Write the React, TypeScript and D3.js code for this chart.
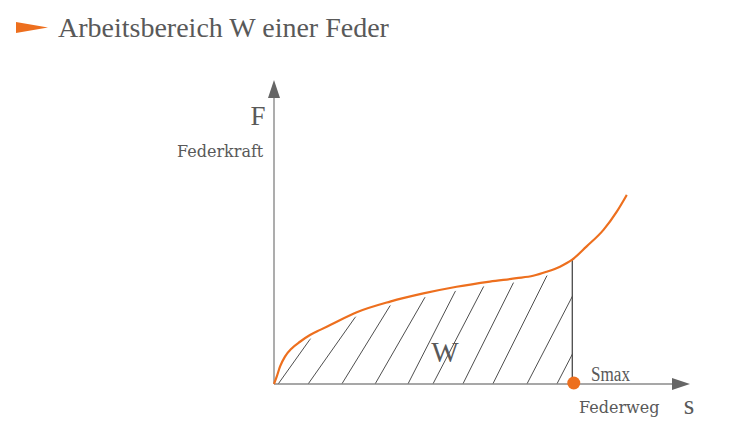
import * as d3 from 'd3'

// spring curve F(s) (axis units 0..100)
const curveS: number[] = [0, 0.65, 1.44, 2.64, 4.25, 6.25, 8.65, 11.1, 13.5, 19.9, 27.9, 35.9, 43.9, 51.9, 58.3, 62.3, 65.5, 68.75, 71.6, 75.1, 79.2, 82.4, 84.8]
const curveF: number[] = [0, 2.4, 5.7, 9.0, 11.7, 13.9, 16.1, 17.8, 19.4, 23.6, 27.1, 29.8, 32.0, 33.7, 34.8, 35.6, 36.9, 38.6, 40.8, 45.2, 50.7, 56.7, 62.2]

// hatch lines: start on the s axis and slope (dF/ds)
const hatchS: number[] = [1.0, 8.2, 16.3, 24.3, 32.2, 38.2, 45.4, 52.6, 60.8, 68.0]
const hatchSlope: number[] = [1.92, 1.94, 2.22, 2.38, 2.68, 2.63, 2.74, 2.74, 2.64, 2.64]

const sMax: number = 71.7
const fAtMax: number = 40.8

const title = 'Arbeitsbereich W einer Feder'
const orange = '#ED6F1E'
const grey = '#595959'
const font = '"Liberation Serif", serif'
const smallFont = '"DejaVu Serif", serif'

export default function App() {
  const width = 750
  const height = 429

  const x = d3.scaleLinear().domain([0, 100]).range([274, 690])
  const y = d3.scaleLinear().domain([0, 100]).range([384, 80])

  const pts: [number, number][] = curveS.map((s, i) => [s, curveF[i]])

  const line = d3.line<[number, number]>()
    .x(d => x(d[0]))
    .y(d => y(d[1]))
    .curve(d3.curveMonotoneX)

  // area below the curve, pulled down a little so hatches stop short
  const gap = 4
  const area = d3.area<[number, number]>()
    .x(d => x(d[0]))
    .y0(y(0))
    .y1(d => y(d[1]) + gap)
    .curve(d3.curveMonotoneX)

  const xMax = x(sMax)

  return (
    <svg width={width} height={height} style={{ position: 'absolute', left: 0, top: 0, background: '#fff' }}>
      <defs>
        <clipPath id="under">
          <path d={area(pts) || ''} />
        </clipPath>
        <clipPath id="left">
          <rect x={x(0)} y={0} width={xMax - x(0)} height={y(0)} />
        </clipPath>
      </defs>

      {/* title */}
      <polygon points="16,22 48,27.5 16,33" fill={orange} />
      <text x={58} y={37} fontFamily={font} fontSize={28} fill={grey}>{title}</text>

      {/* hatching */}
      <g clipPath="url(#left)">
        <g clipPath="url(#under)">
          {hatchS.map((s, i) => (
            <line key={i}
              x1={x(s)} y1={y(0)}
              x2={x(s + 40)} y2={y(hatchSlope[i] * 40)}
              stroke="#3a3a3a" strokeWidth={0.9} />
          ))}
        </g>
      </g>

      {/* s_max vertical */}
      <line x1={xMax} y1={y(0)} x2={xMax} y2={y(fAtMax) - 1} stroke="#3a3a3a" strokeWidth={1.2} />

      {/* axes */}
      <line x1={x(0)} y1={y(0)} x2={x(100) - 16} y2={y(0)} stroke="#8a8a8a" strokeWidth={1.4} />
      <polygon points={`${x(100)},${y(0)} ${x(100) - 18},${y(0) - 6} ${x(100) - 18},${y(0) + 6}`} fill="#666" />
      <line x1={x(0)} y1={y(0)} x2={x(0)} y2={y(100) + 16} stroke="#8a8a8a" strokeWidth={1.4} />
      <polygon points={`${x(0)},${y(100)} ${x(0) - 6},${y(100) + 18} ${x(0) + 6},${y(100) + 18}`} fill="#666" />

      {/* curve */}
      <path d={line(pts) || ''} fill="none" stroke={orange} strokeWidth={2.2} />

      {/* s_max point */}
      <circle cx={xMax + 1.5} cy={y(0) - 1} r={6.5} fill={orange} />

      {/* labels */}
      <text x={258} y={125} textAnchor="middle" fontFamily={font} fontSize={27} fill={grey}>F</text>
      <text x={177} y={157} fontFamily={smallFont} fontSize={16} fill={grey}>Federkraft</text>
      <text x={445} y={362} textAnchor="middle" fontFamily={font} fontSize={29} fill={grey}>W</text>
      <text x={591} y={381} fontFamily={font} fontSize={20} fill={grey}
        textLength={39} lengthAdjust="spacingAndGlyphs">Smax</text>
      <text x={579} y={413} fontFamily={smallFont} fontSize={16} fill={grey}>Federweg</text>
      <text x={689} y={414} textAnchor="middle" fontFamily={font} fontSize={27} fill={grey}>s</text>
    </svg>
  )
}
